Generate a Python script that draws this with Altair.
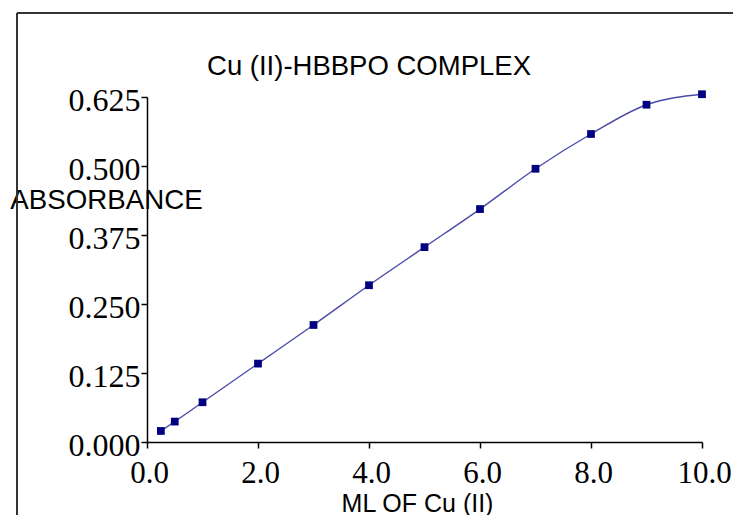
import altair as alt
import pandas as pd

# data
ml_cu = [0.25, 0.5, 1.0, 2.0, 3.0, 4.0, 5.0, 6.0, 7.0, 8.0, 9.0, 10.0]
absorbance = [0.020, 0.037, 0.072, 0.142, 0.212, 0.284, 0.353, 0.422, 0.495, 0.558, 0.611, 0.630]
x_ticks = [0, 2, 4, 6, 8, 10]
y_ticks = [0, 0.125, 0.25, 0.375, 0.5, 0.625]
chart_title = ["Cu (II)-HBBPO COMPLEX"]
x_title = "ML OF Cu (II)"
y_title = "ABSORBANCE"

df = pd.DataFrame({"x": ml_cu, "y": absorbance})

W, H = 555, 345
SANS = "Liberation Sans"
SERIF = "Liberation Serif"

xenc = alt.X("x:Q", scale=alt.Scale(domain=[0, 10], nice=False, zero=False),
             axis=alt.Axis(values=x_ticks, format=".1f", grid=False,
                           domainColor="#000", domainWidth=1.5, tickColor="#000", tickWidth=1.5,
                           tickSize=6, labelFont=SERIF, labelFontSize=31, labelColor="#000",
                           labelPadding=10, labelOffset=2, labelFlush=False,
                           title=x_title, titleFont=SANS, titleFontSize=25, titleFontWeight="normal",
                           titleColor="#000", titleX=270, titleY=69, titleAlign="center",
                           titleBaseline="alphabetic"))
yenc = alt.Y("y:Q", scale=alt.Scale(domain=[0, 0.625], nice=False, zero=False),
             axis=alt.Axis(values=y_ticks, format=".3f", grid=False,
                           domainColor="#000", domainWidth=1.5, tickColor="#000", tickWidth=1.5,
                           tickSize=6, labelFont=SERIF, labelFontSize=32, labelColor="#000",
                           labelPadding=1, labelOffset=3, labelFlush=False,
                           title=y_title, titleFont=SANS, titleFontSize=27.7, titleFontWeight="normal",
                           titleColor="#000", titleAngle=0, titleX=-41, titleY=111,
                           titleAlign="center", titleBaseline="alphabetic"))

base = alt.Chart(df)
line = base.mark_line(interpolate="monotone", color="#4a4aa8", strokeWidth=1.4).encode(x=xenc, y=yenc)
pts = base.mark_square(color="#000080", size=60, opacity=1).encode(x="x:Q", y="y:Q")

title_mark = alt.Chart(pd.DataFrame({"t": chart_title})).mark_text(
    font=SANS, fontSize=27.5, color="#000", align="center", baseline="alphabetic"
).encode(text="t:N", x=alt.value(222), y=alt.value(-22))

frame_left = alt.Chart(pd.DataFrame({"a": [0]})).mark_rule(color="#333", strokeWidth=2).encode(
    x=alt.value(-130), y=alt.value(-84), y2=alt.value(440))
frame_top = alt.Chart(pd.DataFrame({"a": [0]})).mark_rule(color="#333", strokeWidth=2).encode(
    x=alt.value(-130), x2=alt.value(620), y=alt.value(-84))

chart = alt.layer(frame_left, frame_top, line, pts, title_mark).properties(
    width=W, height=H,
    autosize=alt.AutoSizeParams(type="none"),
    padding={"left": 139, "top": 89, "right": 31, "bottom": 73},
).configure_view(stroke=None)

chart.save("out.html", embed_options={"renderer": "svg", "actions": False})
